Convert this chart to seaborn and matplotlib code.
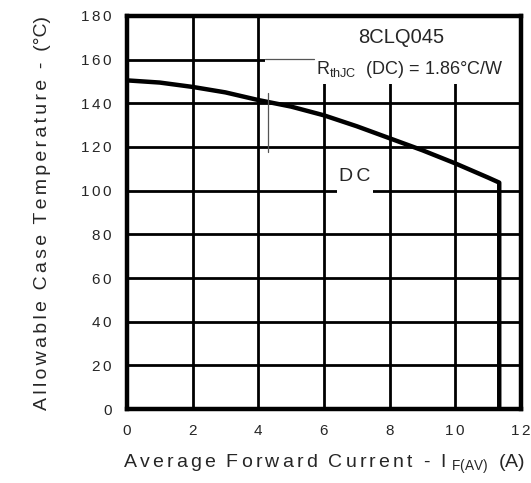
import matplotlib.pyplot as plt
import matplotlib.patches as patches
import pandas as pd
import seaborn as sns

# allowable case temperature vs average forward current (DC)
current = [0, 1, 2, 3, 4, 5, 6, 7, 8, 9, 10, 11, 11.34, 11.34]
case_temp = [150.5, 149.5, 147.5, 145, 141.5, 138.5, 134.5, 129.5, 124, 118.5, 112.5, 106, 103.7, 0]
x_ticks = [0, 2, 4, 6, 8, 10, 12]
y_ticks = [0, 20, 40, 60, 80, 100, 120, 140, 160, 180]

df = pd.DataFrame({'I': current, 'T': case_temp})

sns.set_style('white')
plt.rcParams['font.family'] = ['Liberation Sans', 'DejaVu Sans']
plt.rcParams['mathtext.fontset'] = 'custom'
plt.rcParams['mathtext.rm'] = 'Liberation Sans'

def spaced(s, gap='\u2006'):
    # loose letter spacing like the datasheet
    return gap.join(s)

fig = plt.figure(figsize=(5.31, 4.83), dpi=100)
ax = fig.add_axes([0.239, 0.153, 0.742, 0.814])

ax.set_xlim(0, 12)
ax.set_ylim(0, 180)
ax.set_xticks(x_ticks)
ax.set_yticks(y_ticks)
ax.set_xticklabels([spaced(str(v)) for v in x_ticks])
ax.set_yticklabels([spaced(str(v)) for v in y_ticks])
ax.grid(True, color='black', linewidth=2.0, zorder=1)
ax.set_axisbelow(True)

sns.lineplot(x='I', y='T', data=df, sort=False, estimator=None, color='black', linewidth=3.2, ax=ax, zorder=4)

# white box behind the header text hides grid there
ax.add_patch(patches.Rectangle((4.2, 149), 7.8, 31, facecolor='white', edgecolor='none', zorder=2))
ax.text(8.35, 170, '8CLQ045', ha='center', va='center', fontsize=14.5, zorder=5)
ax.text(5.75, 155.5, r'R$_{\mathregular{thJC}}$  (DC) = 1.86°C/W', ha='left', va='center', fontsize=13, zorder=5)
ax.plot([4.2, 5.7], [160.5, 160.5], color='#555555', linewidth=0.9, zorder=5)
ax.plot([4.3, 4.3], [117.7, 144.8], color='#555555', linewidth=0.9, zorder=5)

# DC label
ax.add_patch(patches.Rectangle((6.4, 98), 1.1, 14, facecolor='white', edgecolor='none', zorder=2))
ax.text(6.95, 106.5, spaced('DC'), ha='center', va='center', fontsize=14, zorder=5)

for s in ax.spines.values():
    s.set_visible(True)
    s.set_color('black')
    s.set_linewidth(3.2)
    s.set_zorder(6)

ax.tick_params(length=0, labelsize=11, pad=11)
xlab = spaced('Average') + '  ' + spaced('Forward') + '  ' + spaced('Current') + '  -  I ' + r'$_{\mathregular{F(AV)}}$' + '  (' + spaced('A') + ')'
ylab = spaced('Allowable') + '  ' + spaced('Case') + '  ' + spaced('Temperature') + '  -  (°C)'
ax.set_xlabel(xlab, fontsize=14, labelpad=10)
ax.set_ylabel(ylab, fontsize=14, labelpad=22)

fig.savefig('out.png', dpi=100)
